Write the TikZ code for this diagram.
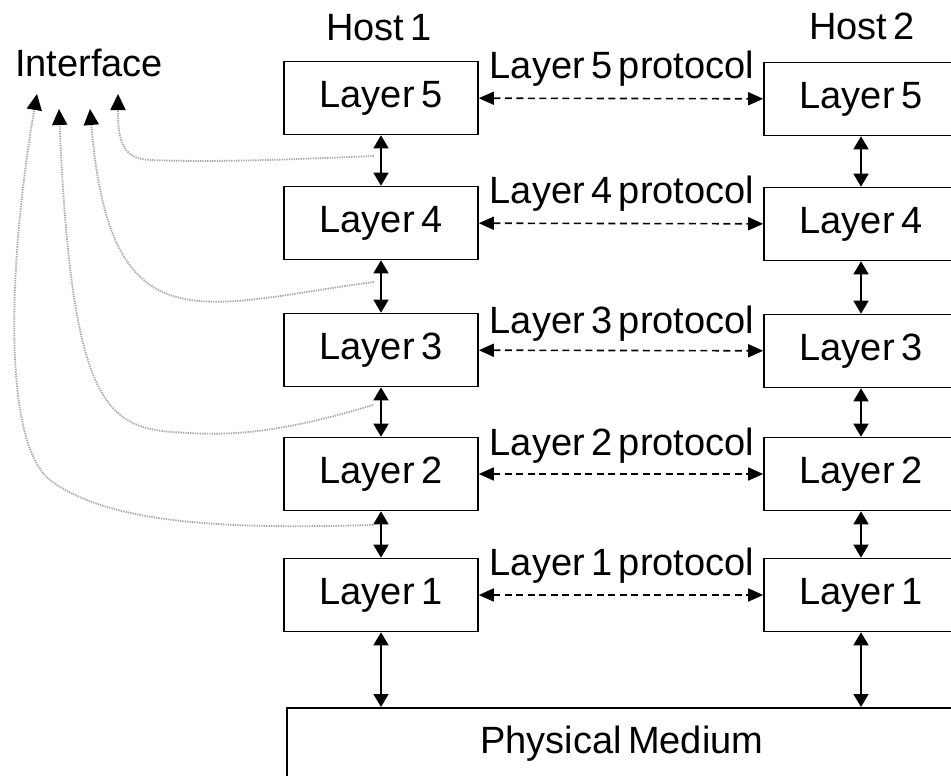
\documentclass[tikz,border=0pt]{standalone}
\usepackage{fontspec}
\setmainfont{Liberation Sans}
\usetikzlibrary{arrows.meta}

\begin{document}
\begin{tikzpicture}[x=1pt,y=-1pt,
    font={\fontsize{38}{40}\selectfont\spaceskip=0.17em\relax},
    layer/.style={draw,shape=rectangle,line width=1.6pt,minimum width=194pt,minimum height=73pt,inner sep=0pt,text height=27pt,text depth=8pt},
    link/.style={line width=1.6pt,{Triangle[length=13pt,width=15pt]}-{Triangle[length=13pt,width=15pt]}},
    peer/.style={line width=1.6pt,dash pattern=on 7pt off 4.5pt,{Triangle[length=15pt,width=13pt]}-{Triangle[length=15pt,width=13pt]}},
    iface/.style={gray!70,line width=1.8pt,dash pattern=on 1.3pt off 1.1pt,-{Triangle[length=16pt,width=15pt,black]}}]
  \useasboundingbox (0,0) rectangle (951,776);
  \clip (0,0) rectangle (951,776);
  \fill[white] (0,0) rectangle (951,776);

  \node[anchor=base] (host1) at (379,41) {Host 1};
  \node[anchor=base] (host2) at (862,40) {Host 2};
  \node[anchor=base] (iface) at (89,77) {Interface};

  \node[layer] (h1l5) at (381,98) {Layer 5};
  \node[layer] (h1l4) at (381,223) {Layer 4};
  \node[layer] (h1l3) at (381,350) {Layer 3};
  \node[layer] (h1l2) at (381,474) {Layer 2};
  \node[layer] (h1l1) at (381,595) {Layer 1};
  \node[layer] (h2l5) at (861,99) {Layer 5};
  \node[layer] (h2l4) at (861,224) {Layer 4};
  \node[layer] (h2l3) at (861,351) {Layer 3};
  \node[layer] (h2l2) at (861,474) {Layer 2};
  \node[layer] (h2l1) at (861,595) {Layer 1};
  \node[draw,shape=rectangle,line width=1.6pt,anchor=north west,minimum width=670pt,minimum height=100pt,text height=27pt,text depth=35pt] (medium) at (286,707) {Physical Medium};

  \node[anchor=base] (proto5) at (622,78) {Layer 5 protocol};
  \node[anchor=base] (proto4) at (622,203) {Layer 4 protocol};
  \node[anchor=base] (proto3) at (622,333) {Layer 3 protocol};
  \node[anchor=base] (proto2) at (622,455) {Layer 2 protocol};
  \node[anchor=base] (proto1) at (622,575) {Layer 1 protocol};

  \draw[link] (h1l5) edge (h1l4);
  \draw[link] (h1l4) edge (h1l3);
  \draw[link] (h1l3) edge (h1l2);
  \draw[link] (h1l2) edge (h1l1);
  \draw[link] (h1l1) edge (h1l1 |- medium.north);
  \draw[link] (h2l5) edge (h2l4);
  \draw[link] (h2l4) edge (h2l3);
  \draw[link] (h2l3) edge (h2l2);
  \draw[link] (h2l2) edge (h2l1);
  \draw[link] (h2l1) edge (h2l1 |- medium.north);

  \draw[peer] (h1l5) edge (h2l5);
  \draw[peer] (h1l4) edge (h2l4);
  \draw[peer] (h1l3) edge (h2l3);
  \draw[peer] (h1l2) edge (h2l2);
  \draw[peer] (h1l1) edge (h2l1);

  \coordinate (if5) at (374,156);
  \coordinate (if4) at (374,282);
  \coordinate (if3) at (373,405);
  \coordinate (if2) at (373,525);
  \coordinate (tip5) at (118,94);
  \coordinate (tip4) at (90,109);
  \coordinate (tip3) at (59,109);
  \coordinate (tip2) at (37,94);
  \draw[iface] (if5) .. controls (260,161) and (200,162) .. (150,160) .. controls (122,159) and (118,140) .. (tip5);
  \draw[iface] (if4) .. controls (200,305) and (110,350) .. (tip4);
  \draw[iface] (if3) .. controls (290,430) and (240,436) .. (190,433) .. controls (110,430) and (72,420) .. (tip3);
  \draw[iface] (if2) .. controls (230,529) and (110,525) .. (50,480) .. controls (0,440) and (10,250) .. (tip2);
\end{tikzpicture}
\end{document}
